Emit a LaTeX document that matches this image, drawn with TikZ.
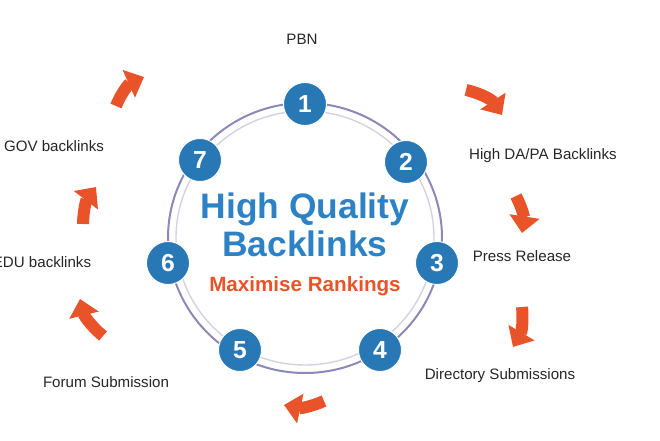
\documentclass[tikz,border=0pt]{standalone}
\usepackage{fontspec}
\setmainfont{Liberation Sans}
\usepackage{tikz}
\usetikzlibrary{arrows.meta, positioning}
\definecolor{numblue}{RGB}{40,120,181}
\definecolor{titleblue}{RGB}{45,130,197}
\definecolor{rankorange}{RGB}{233,83,42}
\definecolor{ringpurple}{RGB}{140,136,184}
\definecolor{ringgrey}{RGB}{210,210,226}
\tikzstyle{num} = [circle, minimum size=1.29cm, inner sep=0pt, fill=numblue, draw=white, line width=0.8pt, text=white, font=\fontsize{21}{21}\selectfont\bfseries]
\tikzstyle{caption} = [anchor=base, inner sep=0pt, font=\fontsize{12.9}{15}\selectfont, text=black!85]
\tikzstyle{swoosh} = [rankorange, line width=0.36cm, -{Triangle[width=0.88cm,length=0.5cm]}]

\begin{document}
\begin{tikzpicture}[x=0.03cm, y=0.03cm]
    \useasboundingbox (0,0) rectangle (660,440);

    % Ring
    \draw [ringpurple, line width=1.7pt] (305,202) ellipse [x radius=137, y radius=135];
    \draw [ringgrey, line width=1.2pt] (305,202) ellipse [x radius=129, y radius=127];

    % Centre text
    \node (T1) [anchor=base, text=titleblue, font=\fontsize{30.2}{32}\selectfont\bfseries] at (305,221) {High Quality};
    \node (T2) [anchor=base, text=titleblue, font=\fontsize{30.2}{32}\selectfont\bfseries] at (305,183) {Backlinks};
    \node (T3) [anchor=base, text=rankorange, font=\fontsize{17.6}{20}\selectfont\bfseries] at (305,148) {Maximise Rankings};

    % Numbers
    \node (N1) [num] at (305,336) {1};
    \node (N2) [num] at (406,278) {2};
    \node (N3) [num] at (437,177) {3};
    \node (N4) [num] at (380,90) {4};
    \node (N5) [num] at (240,90) {5};
    \node (N6) [num] at (168,177) {6};
    \node (N7) [num] at (200,280) {7};

    % Labels
    \node (L1) [caption] at (302,395) {PBN};
    \node (L2) [caption] at (543,280) {High DA/PA Backlinks};
    \node (L3) [caption] at (522,178) {Press Release};
    \node (L4) [caption] at (500,61) {Directory Submissions};
    \node (L5) [caption] at (106,52) {Forum Submission};
    \node (L6) [caption] at (42,172) {EDU backlinks};
    \node (L7) [caption] at (54,288) {GOV backlinks};

    % Arrows
    \draw [swoosh] (116,334) to[bend left=22] (144,363);
    \draw [swoosh] (466,350) to[bend left=22] (502,325);
    \draw [swoosh] (516,244) to[bend left=18] (522,207);
    \draw [swoosh] (522,133) to[bend left=18] (513,93);
    \draw [swoosh] (324,39) to[bend left=18] (284,35);
    \draw [swoosh] (103,104) to[bend left=18] (80,141);
    \draw [swoosh] (83,216) to[bend left=18] (96,253);
\end{tikzpicture}
\end{document}
